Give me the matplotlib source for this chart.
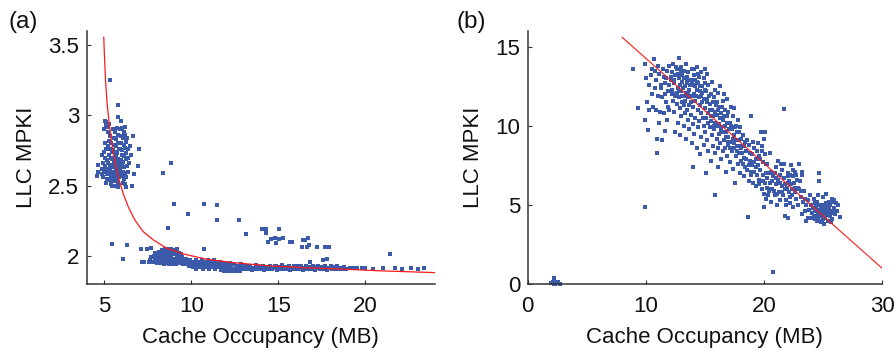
import numpy as np
import matplotlib
matplotlib.use("Agg")
import matplotlib.pyplot as plt

plt.rcParams['font.family'] = ['Liberation Sans', 'DejaVu Sans']

# ---------------- Panel (a) data ----------------
a_cluster_x = [5.02,5.08,5.12,5.05,5.10,5.00,5.04,5.15,5.07,5.11,5.02,5.18,5.14,5.09,4.95,4.90,4.88,4.85,4.92,
               5.22,5.30,5.25,5.35,5.28,5.40,5.22,5.33,5.45,5.26,5.38,5.48,5.21,5.31,5.42,5.36,5.24,5.46,5.29,5.39,5.50,5.34,5.44,5.27,5.41,5.48,
               5.52,5.60,5.72,5.55,5.66,5.78,5.58,5.70,5.82,5.53,5.64,5.76,5.88,5.57,5.68,5.80,5.54,5.63,5.74,5.86,5.59,5.71,5.83,5.56,5.67,5.79,5.89,5.62,5.73,5.85,5.69,5.81,5.60,5.77,
               5.92,6.05,6.15,6.22,5.95,6.08,6.20,6.30,5.98,6.12,6.25,5.93,6.04,6.18,6.35,6.00,6.14,6.28,5.96,6.10,6.24,6.38,6.02,6.16,6.32,5.94,6.07,6.21,6.36,6.00,6.13,6.27,6.09,6.22,
               4.64,4.62,4.65,6.98,6.94,6.65,6.71,6.59,6.28,5.33,5.77,5.82,5.96,5.06,6.50,6.45,6.55]
a_cluster_y = [2.90,2.95,2.93,2.80,2.76,2.74,2.70,2.68,2.64,2.62,2.60,2.58,2.55,2.52,2.66,2.62,2.72,2.58,2.56,
               2.92,2.94,2.88,2.85,2.82,2.80,2.78,2.76,2.74,2.72,2.70,2.69,2.66,2.65,2.64,2.62,2.61,2.60,2.59,2.57,2.56,2.54,2.53,2.55,2.51,2.50,
               2.90,2.88,2.91,2.84,2.83,2.86,2.79,2.78,2.80,2.75,2.74,2.73,2.76,2.70,2.71,2.69,2.67,2.66,2.65,2.66,2.63,2.62,2.63,2.60,2.59,2.60,2.58,2.57,2.55,2.56,2.53,2.52,2.50,2.49,
               2.90,2.91,2.88,2.92,2.85,2.84,2.86,2.84,2.80,2.79,2.81,2.76,2.75,2.77,2.76,2.72,2.71,2.73,2.68,2.67,2.69,2.70,2.64,2.63,2.64,2.61,2.60,2.59,2.60,2.57,2.55,2.56,2.52,2.51,
               2.595,2.565,2.65,2.76,2.64,2.855,2.58,2.50,2.49,3.25,3.07,2.986,2.96,2.96,2.78,2.66,2.72]

a_band_x = [7.55,7.62,7.70,7.78,7.85,7.90,7.95,8.02,8.05,8.10,8.15,8.18,8.22,8.27,8.30,8.33,8.36,8.40,8.43,8.46,8.50,8.52,8.55,8.58,8.62,8.65,8.68,8.71,8.74,8.77,8.80,8.83,8.86,8.90,8.93,8.96,9.00,9.03,9.06,9.10,9.13,9.16,9.20,9.23,9.27,9.30,9.34,9.38,9.42,9.46,9.50,9.55,9.60,9.65,9.70,9.75,9.80,9.85,9.90,9.95,8.25,8.60,8.88,9.15,8.45,7.98,8.70,
            10.00,10.05,10.10,10.15,10.20,10.25,10.30,10.35,10.40,10.45,10.50,10.55,10.60,10.65,10.70,10.75,10.80,10.85,10.90,10.95,11.00,11.05,11.10,11.15,11.20,11.25,11.30,11.35,11.40,11.45,11.50,11.55,11.60,11.65,11.70,11.75,11.80,11.85,11.90,11.95,12.00,12.05,12.10,12.15,12.20,12.25,12.30,12.35,12.40,12.45,12.50,12.55,12.60,12.65,12.70,12.75,12.80,12.85,12.90,12.95,
            13.0,13.1,13.2,13.3,13.4,13.5,13.6,13.7,13.8,13.9,14.0,14.1,14.2,14.3,14.4,14.5,14.6,14.7,14.8,14.9,15.0,15.1,15.2,15.3,15.4,15.5,15.6,15.7,15.8,15.9,16.0,16.1,16.2,16.3,16.4,16.5,16.6,16.7,16.8,16.9,17.0,17.1,17.2,17.3,17.4,17.5,17.6,17.7,17.8,17.9,18.0,18.1,18.2,18.3,18.4,18.5,18.6,18.7,18.8,18.9,
            13.05,13.25,13.45,13.65,13.85,14.05,14.25,14.45,14.65,14.85,15.05,15.25,15.45,15.65,15.85,16.05,16.25,16.45,16.65,16.85,17.05,17.25,17.45,17.65,17.85,18.05,18.25,18.45,18.65]
a_band_y = [1.96,1.97,1.99,1.96,2.00,1.97,2.02,1.95,1.99,2.01,1.97,2.03,1.95,1.99,2.04,2.01,1.96,1.98,2.03,2.00,1.95,2.05,1.97,2.02,1.99,2.04,1.96,2.01,1.94,2.03,1.98,2.05,2.00,1.96,2.02,1.98,2.04,1.95,2.01,1.97,2.03,1.99,2.05,1.96,2.00,2.02,1.95,1.98,2.01,1.96,1.99,1.94,1.97,1.95,1.98,1.94,1.96,1.93,1.95,1.97,1.97,1.98,1.94,1.94,1.94,1.98,2.05,
            1.94,1.96,1.92,1.95,1.93,1.97,1.91,1.94,1.96,1.92,1.95,1.93,1.97,1.91,1.94,1.96,1.92,1.95,1.93,1.97,1.91,1.94,1.96,1.92,1.95,1.93,1.97,1.91,1.94,1.96,1.92,1.95,1.93,1.96,1.90,1.94,1.92,1.95,1.89,1.93,1.91,1.94,1.89,1.92,1.95,1.90,1.93,1.89,1.91,1.94,1.90,1.92,1.89,1.93,1.90,1.92,1.89,1.94,1.91,1.93,
            1.92,1.905,1.93,1.91,1.925,1.90,1.915,1.935,1.905,1.92,1.91,1.93,1.90,1.92,1.91,1.925,1.905,1.915,1.93,1.90,1.92,1.91,1.935,1.905,1.92,1.91,1.925,1.90,1.915,1.93,1.905,1.92,1.91,1.925,1.90,1.915,1.93,1.905,1.92,1.91,1.925,1.90,1.915,1.93,1.905,1.92,1.91,1.925,1.90,1.915,1.93,1.905,1.92,1.91,1.925,1.905,1.915,1.91,1.92,1.905,
            1.91,1.92,1.915,1.905,1.925,1.915,1.905,1.92,1.91,1.925,1.905,1.915,1.92,1.91,1.905,1.925,1.915,1.91,1.92,1.905,1.915,1.92,1.91,1.905,1.915,1.92,1.91,1.915,1.905]

a_out_x = [8.83,8.39,9.00,10.75,11.48,9.83,11.46,12.76,8.69,13.15,14.04,14.29,14.30,15.02,14.42,14.60,14.80,14.85,15.07,15.30,15.67,15.78,16.34,16.44,16.55,16.63,16.72,16.77,17.20,17.68,17.91,17.59,17.80,16.84,21.42,5.44,6.32,6.11,7.09,7.45,7.72,7.15,7.28,10.75,
           19.14,19.52,20.00,20.46,21.03,21.71,22.09,22.61,23.01,23.37,19.3,19.8]
a_out_y = [2.66,2.59,2.37,2.37,2.365,2.30,2.256,2.256,2.197,2.156,2.19,2.19,2.16,2.19,2.10,2.12,2.13,2.095,2.12,2.13,2.10,2.10,2.066,2.11,2.115,2.066,2.125,2.08,2.066,2.066,2.066,1.97,1.975,1.96,2.014,2.087,2.076,1.98,2.052,2.052,2.055,1.96,1.96,2.052,
           1.917,1.912,1.917,1.91,1.912,1.917,1.91,1.912,1.91,1.917,1.915,1.912]

# fitted curve in (a)
a_fit_x = [4.98,5.02,5.08,5.17,5.29,5.44,5.63,5.86,6.09,6.38,6.76,7.24,7.82,8.59,9.54,10.89,12.41,14.52,16.5,18.83,21.0,24.0]
a_fit_y = [3.555,3.418,3.252,3.086,2.944,2.80,2.66,2.54,2.446,2.351,2.256,2.173,2.114,2.055,2.014,1.976,1.952,1.929,1.916,1.905,1.893,1.881]

# ---------------- Panel (b) data ----------------
b_x = [8.9,9.3,9.9,9.95,10.17,9.95,10.0,10.3,10.1,10.4,10.5,10.6,10.7,10.8,10.9,10.93,10.95,11.0,11.1,11.2,11.0,11.3,11.35,11.4,11.1,11.5,11.6,11.5,11.7,11.8,11.9,11.6,11.8,12.0,12.0,
       12.1,12.2,12.2,12.3,12.3,12.4,12.4,12.5,12.5,12.5,12.6,12.6,12.7,12.7,12.8,12.8,12.8,12.9,12.9,12.9,13.0,13.0,13.0,13.1,13.1,13.1,13.2,13.2,13.2,13.3,13.3,13.3,13.4,13.4,13.4,13.5,13.5,13.5,13.6,13.6,13.6,13.7,13.7,13.7,13.8,13.8,13.9,13.9,13.9,14.0,14.0,14.0,14.03,14.1,14.1,14.1,14.2,14.2,14.2,14.3,14.3,14.3,14.4,14.4,14.4,14.5,14.5,14.5,14.6,14.6,14.6,14.7,14.7,14.7,14.8,14.8,14.9,14.9,14.9,
       15.0,15.0,15.0,15.0,15.1,15.1,15.1,15.2,15.2,15.2,15.3,15.3,15.3,15.4,15.4,15.5,15.5,15.5,15.6,15.6,15.6,15.7,15.7,15.8,15.8,15.87,15.9,15.9,15.9,16.0,16.0,16.0,16.1,16.1,16.1,16.2,16.2,16.2,16.3,16.3,16.4,16.4,16.4,16.5,16.5,16.5,16.6,16.6,16.7,16.7,16.7,16.8,16.8,16.9,16.9,16.9,17.0,17.0,17.0,
       17.1,17.1,17.2,17.2,17.3,17.3,17.4,17.4,17.5,17.5,17.5,17.57,17.6,17.6,17.7,17.7,17.8,17.8,17.9,17.9,18.0,18.0,18.1,18.1,18.2,18.3,18.3,18.4,18.4,18.5,18.64,18.6,18.7,18.7,18.8,18.92,18.9,19.0,19.0,19.1,
       19.2,19.2,19.3,19.3,19.4,19.4,19.5,19.5,19.6,19.6,19.74,19.7,19.8,19.8,19.9,19.9,20.0,20.0,20.05,20.1,20.1,20.1,20.2,20.2,20.3,20.3,20.4,20.5,20.5,20.6,20.6,20.76,20.7,20.8,20.9,21.0,21.0,21.1,
       21.2,21.2,21.3,21.4,21.4,21.5,21.5,21.66,21.6,21.7,21.7,21.8,21.8,21.9,22.0,22.0,22.0,22.1,22.2,22.2,22.3,22.3,22.4,22.5,22.5,22.6,22.6,22.7,22.8,22.9,23.0,23.0,23.1,23.2,23.2,23.3,23.4,23.5,23.6,23.7,23.8,
       24.0,24.1,24.2,24.3,24.4,24.5,24.5,24.6,24.7,24.7,24.7,24.8,24.8,24.9,24.9,25.0,25.0,25.0,25.1,25.1,25.1,25.2,25.2,25.3,25.3,25.4,25.4,25.5,25.5,25.6,25.6,25.7,25.8,25.8,25.9,26.0,26.1,26.3,26.47,24.3,25.3,24.6,25.7,
       2.0,2.1,2.2,2.2,2.3,2.4,2.5,2.6,2.7,2.35]
b_y = [13.6,11.1,4.86,10.4,9.75,13.9,13.0,12.6,11.5,13.2,12.0,11.2,14.2,13.5,12.9,8.28,9.2,11.9,13.3,10.9,13.8,12.4,9.1,11.8,10.2,13.1,12.7,10.8,11.5,13.5,12.2,9.7,10.4,13.8,11.0,
       12.9,13.4,12.3,11.6,13.9,12.7,10.9,13.2,12.0,9.6,11.4,13.6,12.4,10.2,14.3,13.0,11.8,12.6,11.1,9.4,13.7,12.2,10.6,13.2,11.9,12.8,11.3,10.0,13.5,12.5,11.6,10.8,13.9,12.1,9.2,13.1,11.0,12.7,11.8,10.4,13.4,12.3,9.8,11.3,12.9,10.7,13.6,11.9,8.9,12.6,11.2,10.1,7.42,13.2,12.0,9.5,11.6,12.9,10.5,13.7,12.3,8.6,11.0,12.7,9.9,13.1,11.8,10.3,12.5,8.2,11.3,13.4,10.8,9.3,12.1,11.5,13.0,10.0,8.8,
       12.7,11.1,9.6,13.6,10.5,12.2,7.0,11.7,9.1,13.3,10.8,12.6,8.4,11.4,9.9,12.0,10.3,7.8,11.0,9.4,12.8,10.6,8.7,11.8,9.8,5.64,10.2,12.3,8.3,11.5,9.2,10.7,12.1,8.6,7.4,10.1,11.2,9.5,12.5,8.9,10.8,9.9,7.9,11.6,8.4,10.4,9.1,12.0,10.0,8.6,11.0,9.6,7.1,10.6,8.1,11.7,9.3,10.9,8.8,
       10.2,7.7,9.0,11.2,8.4,9.8,10.6,7.3,11.1,8.9,9.4,6.37,8.1,10.0,8.7,9.6,7.6,10.4,8.3,9.1,7.0,9.9,8.6,7.8,9.4,8.0,6.8,9.0,7.4,8.4,4.23,7.2,8.8,6.5,7.8,10.63,6.9,8.2,7.5,6.4,
       8.6,7.1,7.9,6.2,8.4,6.9,7.5,8.9,6.6,8.1,9.6,7.2,8.7,6.0,7.7,6.9,9.2,5.7,4.86,9.6,6.4,8.2,7.0,5.4,6.7,7.6,5.9,6.4,8.3,5.2,7.1,0.74,6.0,6.8,5.6,7.4,6.3,5.0,
       6.6,7.8,5.8,6.9,5.3,7.2,6.2,11.05,5.6,6.7,7.6,6.0,4.3,5.3,4.19,7.0,6.4,5.8,6.9,5.1,6.3,7.5,5.6,6.8,4.9,6.1,7.1,5.4,6.6,5.0,6.0,7.6,5.5,4.4,6.9,5.2,5.9,4.6,4.0,5.3,4.7,
       5.0,4.2,5.4,4.6,4.9,4.0,5.2,4.4,7.0,6.5,4.7,3.9,5.0,4.3,4.6,4.1,4.8,5.5,4.4,3.8,5.0,4.6,4.2,4.9,5.7,4.5,4.0,5.2,4.7,4.3,5.0,4.6,5.4,4.1,4.8,4.4,5.1,5.0,4.23,4.1,4.35,5.6,3.95,
       0.05,0.1,0.0,0.4,0.08,0.12,0.05,0.1,0.02,0.0]

b_core_x = [12.15,12.25,12.35,12.45,12.55,12.65,12.75,12.85,12.95,13.05,13.15,13.25,13.35,13.45,13.55,13.65,13.75,13.85,13.95,14.05,14.15,14.25,14.35,14.45,14.55,14.65,14.75,14.85,14.95,
            15.05,15.15,15.25,15.35,15.45,15.55,15.65,15.75,15.85,15.95,16.05,16.15,16.25,16.35,16.45,16.55,16.65,16.75,16.85,16.95,17.05,17.15,17.25,17.35,17.45,17.55,17.65,17.75,17.85,17.95,
            18.05,18.15,18.25,18.35,18.45,18.55,18.75,18.85,18.95,19.05,19.15,19.35,19.55,19.65,19.85,19.95,20.15,20.25,20.35,20.45,20.55,20.65,20.85,20.95,21.05,21.15,21.35,21.45,21.55,21.75,21.85,21.95,
            22.05,22.15,22.25,22.35,22.45,22.55,22.65,22.75,22.85,23.05,23.15,23.25,23.45,23.55,23.75,23.9,24.05,24.15,24.25,24.35,24.45,24.55,24.65,24.75,24.85,24.95,25.05,25.15,25.25,25.35,25.45,25.55,25.65,25.75,25.85,25.95,26.2,
            11.25,11.45,11.65,11.75,11.85,11.95,10.75,10.85,10.55,10.25]
b_core_y = [13.1,12.0,12.9,11.9,13.7,12.1,13.3,12.2,13.5,11.5,12.4,13.0,11.9,12.9,12.0,12.9,12.6,11.5,12.8,13.6,12.5,11.9,12.8,13.3,12.2,11.9,12.5,10.5,11.7,
            12.3,11.5,10.2,11.9,11.0,10.6,11.5,10.0,10.9,11.3,10.0,11.0,10.5,9.7,11.2,9.6,10.6,9.3,10.2,9.0,9.8,8.6,10.0,9.2,8.6,9.9,9.1,8.4,9.6,8.7,
            9.2,8.3,7.6,8.7,7.9,9.1,7.5,8.3,7.1,9.0,7.7,7.4,6.3,7.9,8.4,6.5,7.6,6.1,5.6,7.0,6.0,6.5,5.9,7.0,6.7,5.7,6.4,7.6,5.8,6.3,5.0,6.1,
            6.8,6.5,5.5,6.0,7.2,6.4,5.8,6.9,6.1,6.5,5.9,7.1,5.4,5.0,4.2,5.6,4.5,4.8,4.3,5.1,4.6,4.2,5.0,4.4,4.8,4.0,4.5,4.3,5.1,4.7,4.4,4.9,4.5,5.2,4.6,5.3,4.6,
            12.6,13.6,12.0,13.0,11.2,12.6,12.4,11.0,13.6,11.0]

b_fit_x = [8.0, 30.0]
b_fit_y = [15.6, 1.0]

# ---------------- Figure ----------------
W, H = 894, 351
fig = plt.figure(figsize=(W / 100, H / 100), dpi=100)

DOT = '#3c5aaa'
RED = '#ff1a1a'
SPINE = '#333333'
FS = 16


def style(ax, xlim, ylim, xticks, yticks, yticklabels):
    ax.set_xlim(*xlim)
    ax.set_ylim(*ylim)
    ax.set_xticks(xticks)
    ax.set_yticks(yticks)
    ax.set_yticklabels(yticklabels)
    for s in ['top', 'right']:
        ax.spines[s].set_visible(False)
    for s in ['left', 'bottom']:
        ax.spines[s].set_color(SPINE)
        ax.spines[s].set_linewidth(1.1)
    ax.tick_params(direction='in', length=3, width=0.8, color=SPINE,
                   labelsize=FS, labelcolor='#111111')
    ax.tick_params(axis='x', pad=8.5)
    ax.tick_params(axis='y', pad=5.5)
    ax.set_xlabel('Cache Occupancy (MB)', fontsize=FS, labelpad=7, color='#111111')
    ax.set_ylabel('LLC MPKI', fontsize=FS, labelpad=8, color='#111111')


axa = fig.add_axes([86.7 / W, 1 - 284 / H, (435 - 86.7) / W, (284 - 31) / H])
ax_x = a_cluster_x + a_band_x + a_out_x
ax_y = a_cluster_y + a_band_y + a_out_y
axa.scatter(ax_x, ax_y, s=5, marker='s', color=DOT, linewidths=0, zorder=2)
axa.plot(a_fit_x, a_fit_y, color=RED, lw=0.9, zorder=3)
style(axa, (4, 24), (1.8, 3.6), [5, 10, 15, 20], [2, 2.5, 3, 3.5], ['2', '2.5', '3', '3.5'])

axb = fig.add_axes([527.7 / W, 1 - 284 / H, (882 - 527.7) / W, (284 - 31) / H])
axb.scatter(b_x + b_core_x, b_y + b_core_y, s=5, marker='s', color=DOT, linewidths=0, zorder=2, clip_on=False)
axb.plot(b_fit_x, b_fit_y, color=RED, lw=0.8, zorder=3)
style(axb, (0, 30), (0, 16), [0, 10, 20, 30], [0, 5, 10, 15], ['0', '5', '10', '15'])

fig.text(9 / W, 1 - 22 / H, '(a)', fontsize=17.5, va='center', ha='left', color='#111111')
fig.text(457 / W, 1 - 22 / H, '(b)', fontsize=17.5, va='center', ha='left', color='#111111')

fig.savefig('out.png', dpi=100)
